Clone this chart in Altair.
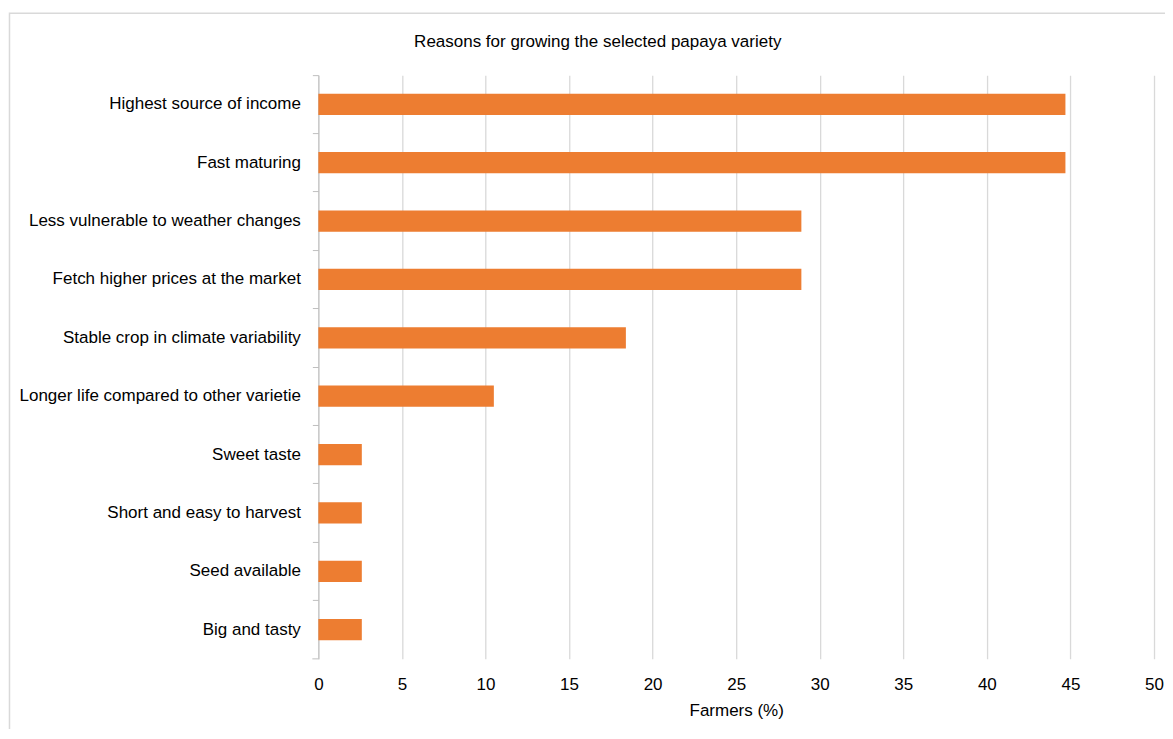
import altair as alt
import pandas as pd

categories = [
    "Highest source of income",
    "Fast maturing",
    "Less vulnerable to weather changes",
    "Fetch higher prices at the market",
    "Stable crop in climate variability",
    "Longer life compared to other varietie",
    "Sweet taste",
    "Short and easy to harvest",
    "Seed available",
    "Big and tasty",
]
values = [44.7, 44.7, 28.9, 28.9, 18.4, 10.5, 2.6, 2.6, 2.6, 2.6]
x_ticks = list(range(0, 51, 5))
title_text = "Reasons for growing the selected papaya variety"

df = pd.DataFrame({"reason": categories, "pct": values})
one = pd.DataFrame({"t": [title_text]})

FONT = "Liberation Sans"
FS = 17
W, H = 836, 584

bars = alt.Chart(df).mark_bar(color="#ED7D31", height={"band": 0.365}).encode(
    x=alt.X("pct:Q", scale=alt.Scale(domain=[0, 50], nice=False),
            axis=alt.Axis(values=x_ticks, title="Farmers (%)", grid=True,
                          gridColor="#d9d9d9", gridWidth=1.3, domain=False,
                          ticks=False, labelPadding=18, titlePadding=10,
                          labelFlush=False,
                          labelFontSize=FS, titleFontSize=FS,
                          labelFont=FONT, titleFont=FONT,
                          labelColor="#000", titleColor="#000",
                          titleFontWeight="normal")),
    y=alt.Y("reason:N", sort=categories,
            scale=alt.Scale(paddingInner=0, paddingOuter=0),
            axis=alt.Axis(title=None, bandPosition=0, tickSize=6,
                          tickColor="#bfbfbf", domainColor="#bfbfbf",
                          labelPadding=12, labelFontSize=FS, labelFont=FONT,
                          labelColor="#000", labelLimit=400)),
)

end_tick = alt.Chart(one).mark_rule(color="#bfbfbf").encode(
    x=alt.value(-6), x2=alt.value(0), y=alt.value(H)
)

border = alt.Chart(one).mark_rect(fill=None, stroke="#d9d9d9", strokeWidth=1.5).encode(
    x=alt.value(-309), x2=alt.value(1000), y=alt.value(-62), y2=alt.value(900)
)

title = alt.Chart(one).mark_text(font=FONT, fontSize=FS, color="#000",
                                 align="center", baseline="middle").encode(
    x=alt.value(279.5), y=alt.value(-33), text="t:N"
)

chart = alt.layer(border, bars, end_tick, title).properties(
    width=W, height=H,
    autosize=alt.AutoSizeParams(type="none"),
    padding={"left": 310.5, "top": 67, "right": 11, "bottom": 70},
).configure_view(stroke=None)

chart.save("out.html", embed_options={"renderer": "svg", "actions": False})
